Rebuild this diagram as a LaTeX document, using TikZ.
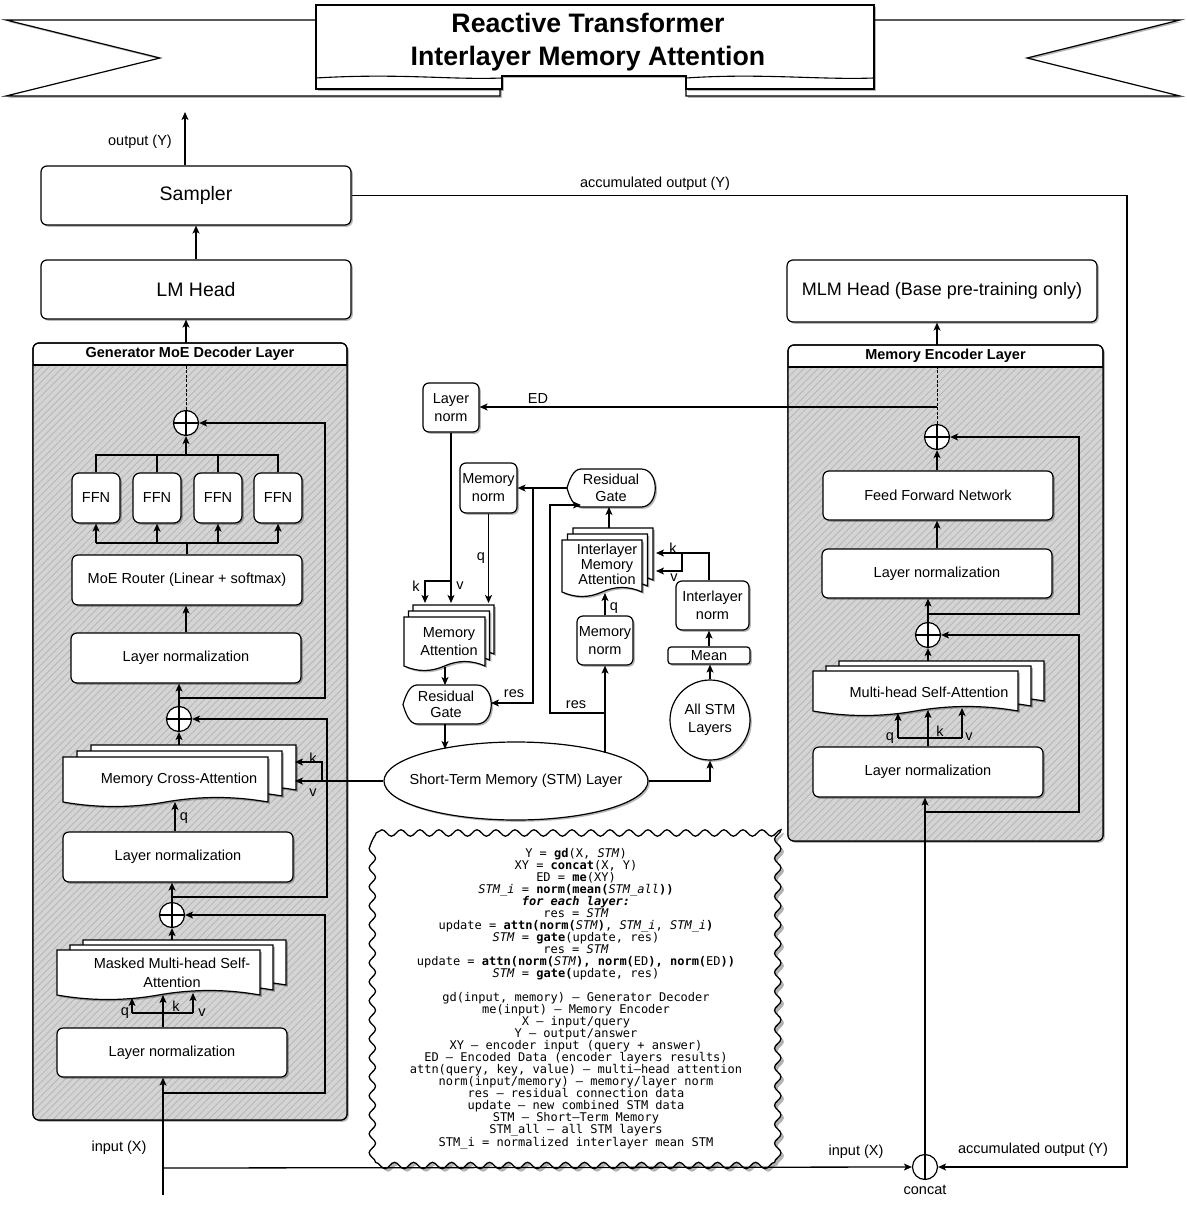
\documentclass[tikz,border=0pt]{standalone}
\usepackage{fontspec}
\setmainfont{Liberation Sans}
\newfontfamily\codefont{DejaVu Sans Mono}
\usetikzlibrary{arrows.meta,shapes.geometric,shadows,patterns.meta,decorations.pathmorphing,calc}
\newcommand\fsz[2]{\fontsize{#1}{#2}\selectfont}
\tikzset{
 shadowed/.style={drop shadow={shadow xshift=1.8pt,shadow yshift=-1.8pt,opacity=0.28,fill=black}},
 box/.style={draw,line width=1.2pt,rounded corners=6pt,fill=white,align=center,inner sep=0pt,font=\fsz{14.5}{17},shadowed},
 conn/.style={line width=1.3pt},
 arr/.style={conn,-{Stealth[length=8pt,width=7pt,inset=2pt]}},
 lbl/.style={font=\fsz{14.5}{17},inner sep=0pt,align=center},
 txt/.style={inner sep=0pt,align=center,font=\fsz{14.5}{17}},
 docsty/.style={draw,line width=1.2pt,fill=white,shadowed},
 ribbon/.style={draw,line width=1.2pt,fill=white,shadowed},
 plusc/.style={circle,draw,line width=1.2pt,fill=white,minimum size=25pt,inner sep=0pt,
   path picture={\draw[line width=1.2pt] (path picture bounding box.north) -- (path picture bounding box.south)
     (path picture bounding box.west) -- (path picture bounding box.east);}},
 concatc/.style={circle,draw,line width=1.2pt,fill=white,minimum size=25pt,inner sep=0pt,
   path picture={\draw[line width=1.2pt] (path picture bounding box.north) -- (path picture bounding box.south);}},
 wavy/.style={decorate,decoration={snake,amplitude=3.2pt,segment length=19pt}},
}
% document shape: x1 y1 x2 y2 (y2 = lowest point)
\newcommand\docone[4]{%
 \pgfmathsetmacro\Dxa{#1}\pgfmathsetmacro\Dya{#2}\pgfmathsetmacro\Dxb{#3}\pgfmathsetmacro\Dyb{#4}%
 \pgfmathsetmacro\Dw{(\Dxb-\Dxa)/6}\pgfmathsetmacro\Dm{(\Dxa+\Dxb)/2}%
 \pgfmathsetmacro\De{\Dyb-5}\pgfmathsetmacro\Du{\Dyb-11}\pgfmathsetmacro\Dd{\Dyb+1}%
 \filldraw[docsty] (\Dxa,\Dya) -- (\Dxb,\Dya) -- (\Dxb,\De) .. controls (\Dxb-\Dw,\Du) and (\Dm+\Dw,\Du) .. (\Dm,\De)
   .. controls (\Dm-\Dw,\Dd) and (\Dxa+\Dw,\Dd) .. (\Dxa,\De) -- cycle;}
\newcommand\docstack[6]{%
 \docone{#1+2*(#5)}{#2+2*(#6)}{#3+2*(#5)}{#4+2*(#6)}%
 \docone{#1+(#5)}{#2+(#6)}{#3+(#5)}{#4+(#6)}%
 \docone{#1}{#2}{#3}{#4}}
% gate shape
\newcommand\gateshape[4]{%
 \pgfmathsetmacro\Gym{(#2+#4)/2}%
 \filldraw[docsty] (#1,\Gym) .. controls (#1+2,\Gym-7) and (#1+6,#2) .. (#1+14,#2) -- (#3-14,#2)
   .. controls (#3+5,#2) and (#3+5,#4) .. (#3-14,#4) -- (#1+14,#4)
   .. controls (#1+6,#4) and (#1+2,\Gym+7) .. (#1,\Gym) -- cycle;}
% swimlane container
\newcommand\lane[6]{%
 \filldraw[fill=white,line width=1.2pt,rounded corners=6pt,shadowed] (#1,#2) rectangle (#3,#4);
 \begin{scope}
  \clip[rounded corners=6pt] (#1,#2) rectangle (#3,#4);
  \fill[black!17] (#1,#2+22) rectangle (#3,#4);
  \fill[pattern={Lines[angle=45,distance=5pt,line width=0.7pt]},pattern color=black!30] (#1,#2+22) rectangle (#3,#4);
 \end{scope}
 \draw[line width=1.2pt] (#1,#2+22) -- (#3,#2+22);
 \draw[line width=1.2pt,rounded corners=6pt] (#1,#2) rectangle (#3,#4);
 \node[font=\bfseries\fsz{14.5}{17},inner sep=0pt] (#5) at ({(#1+#3)/2},#2+11) {#6};
}
\begin{document}
\begin{tikzpicture}[x=1pt,y=-1pt]
\useasboundingbox (0,0) rectangle (1186,1215);
\fill[white] (0,0) rectangle (1186,1215);

% ---------------- title banner
\filldraw[ribbon] (6,20) -- (500,20) -- (500,96) -- (6,96) -- (160,58) -- cycle;
\filldraw[ribbon] (1180,20) -- (686,20) -- (686,96) -- (1180,96) -- (1027,58) -- cycle;
\filldraw[ribbon] (316,5) -- (874,5) -- (874,89) -- (686,89) -- (686,76) -- (502,76) -- (502,89) -- (316,89) -- cycle;
\draw[line width=1.1pt] (316,78) .. controls (400,73) and (450,80) .. (502,78);
\draw[line width=1.1pt] (686,78) .. controls (760,73) and (820,80) .. (874,78);
\node[anchor=base,inner sep=0pt,font=\bfseries\fsz{26.7}{30}] (title1) at (588,33) {Reactive Transformer};
\node[anchor=base,inner sep=0pt,font=\bfseries\fsz{26.7}{30}] (title2) at (588,66) {Interlayer Memory Attention};

% ---------------- containers
\lane{33}{343}{347}{1120}{dectitle}{Generator MoE Decoder Layer}
\lane{788}{345}{1103}{841}{enctitle}{Memory Encoder Layer}

% ---------------- decoder side boxes
\node[box,minimum width=310,minimum height=59,font=\fsz{19.5}{22}] (sampler) at (196,195.5) {Sampler};
\node[box,minimum width=310,minimum height=59,font=\fsz{19.5}{22}] (lmhead) at (196,289.5) {LM Head};
\node[plusc] (P1) at (186,423) {};
\node[box,minimum width=48,minimum height=50,rounded corners=7pt] (ffn1) at (96,498) {FFN};
\node[box,minimum width=48,minimum height=50,rounded corners=7pt] (ffn2) at (157,498) {FFN};
\node[box,minimum width=48,minimum height=50,rounded corners=7pt] (ffn3) at (218,498) {FFN};
\node[box,minimum width=48,minimum height=50,rounded corners=7pt] (ffn4) at (278,498) {FFN};
\node[box,minimum width=230,minimum height=50] (router) at (187,580) {MoE Router (Linear + softmax)};
\node[box,minimum width=230,minimum height=50] (ln1) at (186,658) {Layer normalization};
\node[plusc] (P2) at (179,719) {};
\docstack{63}{757}{268}{807}{14}{-6}
\node[txt] (mca) at (179,780) {Memory Cross-Attention};
\node[box,minimum width=230,minimum height=50] (ln2) at (178,857) {Layer normalization};
\node[plusc] (P3) at (172,915) {};
\docstack{57}{950}{260}{1000}{13}{-5}
\node[txt,font=\fsz{14.5}{19}] (mmsa) at (172,972.5) {Masked Multi-head Self-\\Attention};
\node[box,minimum width=230,minimum height=49] (ln3) at (172,1052.5) {Layer normalization};
\node[concatc] (concat) at (925,1167) {};

% ---------------- encoder side boxes
\node[box,minimum width=310,minimum height=62,font=\fsz{18}{21}] (mlm) at (942,291) {MLM Head (Base pre-training only)};
\node[plusc] (P4) at (937,437) {};
\node[box,minimum width=230,minimum height=49] (effn) at (938,495.5) {Feed Forward Network};
\node[box,minimum width=230,minimum height=49] (eln1) at (937,573.5) {Layer normalization};
\node[plusc] (P5) at (928,635) {};
\docstack{813}{671}{1018}{716}{13}{-5}
\node[txt] (mhsa) at (929,692) {Multi-head Self-Attention};
\node[box,minimum width=230,minimum height=50] (eln2) at (928,772) {Layer normalization};

% ---------------- centre
\node[box,minimum width=56,minimum height=49,font=\fsz{14.5}{18}] (lnorm) at (451,407.5) {Layer\\norm};
\node[box,minimum width=57,minimum height=50,font=\fsz{14.5}{18}] (mnorm1) at (488.5,488) {Memory\\norm};
\docstack{404}{617}{485}{671}{4.5}{-6}
\node[txt,font=\fsz{14.5}{18}] (matt) at (449,642) {Memory\\Attention};
\gateshape{403}{685}{491}{724}
\node[txt,minimum width=88,minimum height=39,font=\fsz{14.5}{16.5}] (gate1) at (446,704.5) {Residual\\Gate};
\gateshape{567}{469}{655}{507}
\node[txt,minimum width=88,minimum height=38,font=\fsz{14.5}{16.5}] (gate2) at (611,488) {Residual\\Gate};
\docstack{562}{540}{642}{597}{5.5}{-6}
\node[txt,font=\fsz{14.5}{15}] (ima) at (607,564) {Interlayer\\Memory\\Attention};
\node[box,minimum width=56,minimum height=49,font=\fsz{14.5}{18}] (mnorm2) at (605,640.5) {Memory\\norm};
\node[box,minimum width=73,minimum height=49,font=\fsz{14.5}{18}] (inorm) at (712.5,605.5) {Interlayer\\norm};
\node[box,minimum width=82,minimum height=17,rounded corners=3pt] (mean) at (709,655.5) {Mean};
\node[box,circle,minimum size=80,font=\fsz{14.5}{18}] (allstm) at (710,720) {All STM\\Layers};
\node[box,ellipse,rounded corners=0pt,minimum width=264,minimum height=78,inner xsep=-30pt,inner ysep=0pt] (stm) at (516,781) {Short-Term Memory (STM) Layer};

% ---------------- code box
\fill[black!30,wavy] (379,836) -- (781,836) -- (781,1162) -- (379,1162) -- cycle;
\draw[fill=white,line width=1.3pt,wavy] (376,833) -- (778,833) -- (778,1159) -- (376,1159) -- cycle;
\node[inner sep=0pt,align=center,font=\codefont\fsz{12}{12}] (code) at (576,998.5) {%
Y = \textbf{gd}(X, \textit{STM})\\
XY = \textbf{concat}(X, Y)\\
ED = \textbf{me}(XY)\\
\textit{STM\_i} = \textbf{norm(mean(}\textit{STM\_all}\textbf{))}\\
\textbf{\textit{for each layer:}}\\
res = \textit{STM}\\
update = \textbf{attn(norm(}\textit{STM}\textbf{)}, \textit{STM\_i}, \textit{STM\_i}\textbf{)}\\
\textit{STM} = \textbf{gate}(update, res)\\
res = \textit{STM}\\
update = \textbf{attn(norm(}\textit{STM}\textbf{), norm(}ED\textbf{), norm(}ED\textbf{))}\\
\textit{STM} = \textbf{gate(}update, res)\\[12pt]
gd(input, memory) – Generator Decoder\\
me(input) – Memory Encoder\\
X – input/query\\
Y – output/answer\\
XY – encoder input (query + answer)\\
ED – Encoded Data (encoder layers results)\\
attn(query, key, value) – multi–head attention\\
norm(input/memory) – memory/layer norm\\
res – residual connection data\\
update – new combined STM data\\
STM – Short–Term Memory\\
STM\_all – all STM layers\\
STM\_i = normalized interlayer mean STM};

% ---------------- coordinates
\coordinate (outY) at (185,112);
\coordinate (inbot) at (163,1195);
\coordinate (mcaq) at (175,802);
\coordinate (mcak) at (295,762);
\coordinate (mcav) at (295,781);

% ---------------- decoder connectors
\draw[arr] (sampler.north -| outY) -- (outY);
\draw[arr] (lmhead.north -| sampler.south) -- (sampler.south);
\draw[arr] (186,343) -- (lmhead.south -| 186,0);
\draw[conn,dash pattern=on 3pt off 1.6pt,line width=1pt] (P1.north) -- (186,365);
\draw[conn] (ffn1.north) -- (ffn1.north |- 0,455) -- (ffn4.north |- 0,455) -- (ffn4.north);
\draw[conn] (ffn2.north) -- (ffn2.north |- 0,455);
\draw[conn] (ffn3.north) -- (ffn3.north |- 0,455);
\draw[arr] (P1.south |- 0,455) -- (P1.south);
\draw[conn] (router.north) -- (router.north |- 0,543);
\draw[conn] (ffn1.south |- 0,543) -- (ffn4.south |- 0,543);
\draw[arr] (ffn1.south |- 0,543) -- (ffn1.south);
\draw[arr] (ffn2.south |- 0,543) -- (ffn2.south);
\draw[arr] (ffn3.south |- 0,543) -- (ffn3.south);
\draw[arr] (ffn4.south |- 0,543) -- (ffn4.south);
\draw[arr] (ln1.north) -- (ln1.north |- router.south);
\draw[arr] (P2.north) -- (P2.north |- ln1.south);
\draw[arr] (P2.north |- 0,698) -- (325,698) -- (325,423) -- (P1.east);
\draw[arr] (P2.south |- 0,745) -- (P2.south);
\draw[arr] (ln2.north -| mcaq) -- (mcaq);
\draw[arr] (P3.north) -- (P3.north |- ln2.south);
\draw[arr] (P3.north |- 0,897) -- (327,897) -- (327,719) -- (P2.east);
\draw[arr] (P3.south |- 0,940) -- (P3.south);
\draw[arr] (ln3.north -| 163,0) -- (163,995);
\draw[conn] (132,1013) -- (193,1013);
\draw[arr] (132,1013) -- (132,998);
\draw[arr] (193,1013) -- (193,993);
\draw[arr] (inbot) -- (inbot |- ln3.south);
\draw[arr] (163,1093) -- (325,1093) -- (325,915) -- (P3.east);
\draw[arr] (163,1168) -- (concat.west);

% ---------------- encoder connectors
\draw[arr] (sampler.east) -- (1127,195.5) -- (1127,1167) -- (concat.east);
\draw[arr] (concat.north) -- (concat.north |- eln2.south);
\draw[arr] (925,812) -- (1079,812) -- (1079,635) -- (P5.east);
\draw[arr] (eln2.north) -- (928,710);
\draw[conn] (898,738) -- (962,738);
\draw[arr] (898,738) -- (898,713);
\draw[arr] (962,738) -- (962,708);
\draw[arr] (P5.south |- 0,661) -- (P5.south);
\draw[arr] (P5.north) -- (P5.north |- eln1.south);
\draw[arr] (P5.north |- 0,614) -- (1079,614) -- (1079,437) -- (P4.east);
\draw[arr] (eln1.north) -- (eln1.north |- effn.south);
\draw[arr] (effn.north -| P4) -- (P4.south);
\draw[conn,dash pattern=on 3pt off 1.6pt,line width=1pt] (P4.north) -- (937,367);
\draw[arr] (937,345) -- (mlm.south -| P4);
\draw[arr] (937,407) -- (lnorm.east |- 0,407);

% ---------------- centre connectors
\draw[conn] (lnorm.south) -- (451,581);
\draw[arr] (451,581) -- (451,603);
\draw[arr] (451,581) -- (425,581) -- (425,603);
\draw[arr] (mnorm1.south) -- (mnorm1.south |- 0,603);
\draw[arr] (445,667) -- (445,685);
\draw[arr] (445,724) -- (445,749);
\draw[arr] (gate2.west) -- (mnorm1.east);
\draw[arr] (533,488) -- (533,703) -- (491,703);
\draw[arr] (605,753) -- (mnorm2.south);
\draw[arr] (605,713) -- (550,713) -- (550,505) -- (581,505);
\draw[arr] (mnorm2.north) -- (605,593);
\draw[arr] (609,528) -- (609,507);
\draw[conn] (inorm.north -| 709,0) -- (709,553) -- (682,553);
\draw[arr] (682,553) -- (656,553);
\draw[arr] (682,553) -- (682,571) -- (656,571);
\draw[arr] (mean.north) -- (mean.north |- inorm.south);
\draw[arr] (allstm.north) -- (allstm.north |- mean.south);
\draw[arr] (stm.east) -- (710,781) -- (allstm.south);
\draw[arr] (stm.west) -- (mcav);
\draw[arr] (322,781) -- (322,762) -- (mcak);

% ---------------- labels
\node[lbl] (lout) at (140,142) {output (Y)};
\node[lbl] (lacc1) at (655,184) {accumulated output (Y)};
\node[lbl] (led) at (538,399) {ED};
\node[lbl] (lk1) at (416,586) {k};
\node[lbl] (lv1) at (460,586) {v};
\node[lbl] (lq1) at (481,558) {q};
\node[lbl] (lres1) at (514,694) {res};
\node[lbl] (lres2) at (576,705) {res};
\node[lbl] (lk2) at (673,548) {k};
\node[lbl] (lv2) at (674,578) {v};
\node[lbl] (lq2) at (614,608) {q};
\node[lbl] (lk3) at (313,758) {k};
\node[lbl] (lv3) at (313,793) {v};
\node[lbl] (lq3) at (184,818) {q};
\node[lbl] (lq4) at (125,1013) {q};
\node[lbl] (lk4) at (176,1006) {k};
\node[lbl] (lv4) at (202,1013) {v};
\node[lbl] (lq5) at (890,738) {q};
\node[lbl] (lk5) at (940,731) {k};
\node[lbl] (lv5) at (969,737) {v};
\node[lbl] (lin1) at (119,1148) {input (X)};
\node[lbl] (lin2) at (856,1152) {input (X)};
\node[lbl] (lacc2) at (1033,1150) {accumulated output (Y)};
\node[lbl] (lconcat) at (925,1190) {concat};
\end{tikzpicture}
\end{document}
